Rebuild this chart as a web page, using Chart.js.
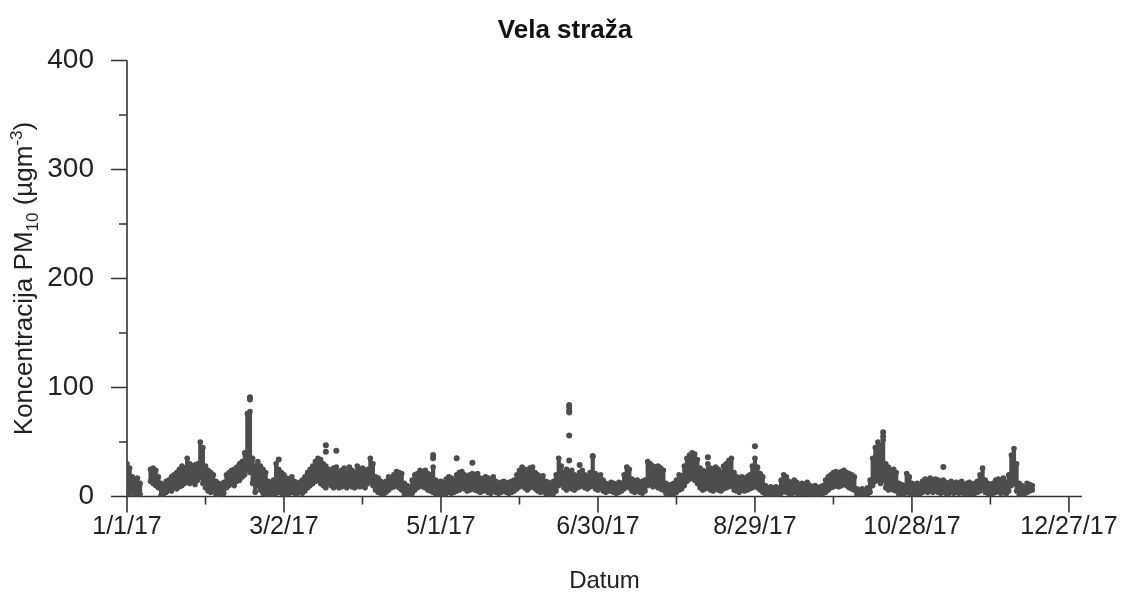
<!DOCTYPE html>
<html>
<head>
<meta charset="utf-8">
<script src="https://cdn.jsdelivr.net/npm/chart.js@4.4.1/dist/chart.umd.min.js"></script>
<style>
  html, body { margin: 0; padding: 0; background: #fff; }
  #wrap { width: 1125px; height: 596px; }
</style>
</head>
<body>
<div id="wrap"><canvas id="chartPM"></canvas></div>
<script>
// PM10 Vela straža 2017 - dnevni raspon (min/max) + izdvojene vrijednosti
const FONT = '"Liberation Sans", Arial, Helvetica, sans-serif';
const INK = '#4d4d4d';
const TITLE = 'Vela straža';

// x = dan u godini (0 = 1/1/17)
const xTickDays   = [0, 60, 120, 180, 240, 300, 360];
const xTickLabels = ['1/1/17', '3/2/17', '5/1/17', '6/30/17', '8/29/17', '10/28/17', '12/27/17'];
const xMinorDays  = [30, 90, 150, 210, 270, 330];
const yTickVals   = [0, 100, 200, 300, 400];
const yMinorVals  = [50, 150, 250, 350];

// dnevni maksimum (index = dan)
const hiVals = [
  30,26,18,15,17,12,null,null,null,25,
  26,24,18,12,10,14,15,18,20,22,
  25,28,26,35,30,28,29,30,50,45,
  28,24,22,20,14,12,10,13,20,22,
  24,25,27,30,32,40,76,78,35,28,
  32,28,25,22,14,12,15,30,25,22,
  20,17,15,18,14,12,13,15,18,22,
  25,28,32,35,34,30,28,25,24,26,
  27,22,24,26,22,27,24,22,28,25,
  26,22,25,35,30,18,17,14,12,14,
  18,17,20,23,22,21,12,10,9,15,
  20,21,24,22,24,21,20,27,15,13,
  14,12,16,18,17,15,20,22,23,20,
  18,20,21,19,21,17,16,18,17,15,
  18,14,12,13,14,12,13,14,15,20,
  24,27,25,22,26,27,22,20,18,19,
  14,13,12,14,20,35,28,22,25,22,
  24,20,18,22,24,20,18,22,37,21,
  18,20,15,12,11,13,12,10,13,12,
  20,27,25,16,14,15,13,14,15,32,
  30,28,27,28,26,24,12,10,11,12,
  15,20,19,28,35,38,40,39,34,26,
  24,23,30,26,24,27,25,22,28,30,
  33,35,22,18,17,18,16,18,20,28,
  35,27,21,18,10,8,9,7,9,8,
  15,20,18,14,12,15,13,10,12,11,
  13,10,9,10,8,9,10,15,18,20,
  22,23,21,23,24,22,21,20,18,7,
  6,7,6,8,15,35,45,50,47,52,
  30,27,24,25,22,12,11,10,21,18,
  12,11,12,10,14,16,15,17,14,16,
  15,14,15,13,12,14,11,13,12,14,
  10,12,13,11,12,14,20,26,15,12,
  11,12,15,16,14,17,13,20,38,44,
  30,12,10,8,12,11,10
];

// dnevni minimum
const loVals = [
  3,2,4,2,1,2,null,null,null,14,
  12,10,8,1,2,4,6,5,8,7,
  9,10,12,14,12,14,11,15,18,12,
  8,5,4,6,2,1,2,3,8,10,
  12,10,14,15,18,20,25,22,12,4,
  10,6,3,2,1,0,1,3,4,3,
  2,1,3,4,3,2,4,3,5,8,
  10,12,14,15,12,10,8,12,10,8,
  10,8,9,10,8,11,9,8,10,9,
  10,8,12,14,10,6,4,3,2,4,
  6,8,9,10,8,6,2,1,0,3,
  6,8,10,9,8,6,5,4,2,1,
  2,1,3,4,3,4,5,6,8,7,
  5,6,7,6,5,4,5,6,4,3,
  5,4,3,4,5,4,3,4,5,7,
  9,10,8,6,8,9,7,5,4,6,
  3,2,2,3,5,10,12,8,6,8,
  7,6,8,9,10,8,7,9,10,7,
  6,8,5,4,5,5,4,3,4,5,
  7,10,8,5,4,5,4,3,5,10,
  12,9,10,8,7,6,3,2,3,2,
  4,6,7,10,14,16,18,15,12,8,
  6,7,8,6,5,7,6,5,7,8,
  9,10,6,5,4,6,5,6,7,8,
  10,8,6,4,2,1,2,1,2,1,
  3,5,4,3,2,4,3,2,3,2,
  3,2,1,2,1,2,3,4,6,8,
  9,10,9,10,11,10,8,7,6,2,
  1,2,1,2,4,10,14,16,12,15,
  8,6,7,6,5,2,1,2,4,3,
  2,1,3,2,4,5,4,5,4,5,
  4,3,4,3,2,4,3,4,3,4,
  2,3,3,2,3,4,5,8,4,3,
  2,3,4,5,3,4,2,5,10,12,
  5,1,0,2,4,5,6
];

// izdvojene točke (vršne vrijednosti)
const outlierDays = [47, 47, 58, 76, 76, 80, 117, 117, 126, 132, 169, 169, 169, 169, 169, 169, 173, 178, 222, 240, 289, 289, 312];
const outlierVals = [91, 89, 34, 47, 41, 42, 38, 35, 35, 31, 84, 82, 79, 77, 56, 33, 29, 37, 36, 46, 59, 55, 27];

const bandData = [];
const edgeData = [];
hiVals.forEach((h, i) => {
  if (h == null || loVals[i] == null) return;
  bandData.push({ x: i, y: [loVals[i], h] });
  edgeData.push({ x: i, y: h }, { x: i, y: loVals[i] });
});
const outlierData = outlierDays.map((d, i) => ({ x: d, y: outlierVals[i] }));

const axesPlugin = {
  id: 'axes',
  beforeDatasetsDraw(chart) {
    const { ctx, chartArea: a, scales: { x, y } } = chart;
    ctx.save();
    ctx.strokeStyle = '#333';
    ctx.lineWidth = 1.6;
    ctx.beginPath();
    ctx.moveTo(a.left, a.top); ctx.lineTo(a.left, a.bottom);
    ctx.moveTo(a.left, a.bottom); ctx.lineTo(a.right, a.bottom);
    yTickVals.forEach(v => { const p = y.getPixelForValue(v); ctx.moveTo(a.left - 16, p); ctx.lineTo(a.left, p); });
    yMinorVals.forEach(v => { const p = y.getPixelForValue(v); ctx.moveTo(a.left - 8, p); ctx.lineTo(a.left, p); });
    xTickDays.forEach(v => { const p = x.getPixelForValue(v); ctx.moveTo(p, a.bottom); ctx.lineTo(p, a.bottom + 16); });
    xMinorDays.forEach(v => { const p = x.getPixelForValue(v); ctx.moveTo(p, a.bottom); ctx.lineTo(p, a.bottom + 8); });
    ctx.stroke();
    ctx.restore();
  }
};

// naslov grafa + naslov y osi sa indeksom i eksponentom
const textPlugin = {
  id: 'texts',
  afterDraw(chart) {
    const { ctx, chartArea: a } = chart;
    ctx.save();
    ctx.fillStyle = '#111';
    ctx.textAlign = 'center';
    ctx.textBaseline = 'alphabetic';
    ctx.font = `bold 26px ${FONT}`;
    ctx.fillText(TITLE, 565, 38);

    const parts = [
      { t: 'Koncentracija PM', s: 26, dy: 0 },
      { t: '10', s: 17, dy: 6 },
      { t: ' (µgm', s: 26, dy: 0 },
      { t: '-3', s: 17, dy: -10 },
      { t: ')', s: 26, dy: 0 }
    ];
    ctx.fillStyle = '#222';
    ctx.textAlign = 'left';
    let total = 0;
    parts.forEach(p => { ctx.font = `${p.s}px ${FONT}`; p.w = ctx.measureText(p.t).width; total += p.w; });
    ctx.translate(32, (a.top + a.bottom) / 2);
    ctx.rotate(-Math.PI / 2);
    let xx = -total / 2;
    parts.forEach(p => { ctx.font = `${p.s}px ${FONT}`; ctx.fillText(p.t, xx, p.dy); xx += p.w; });
    ctx.restore();
  }
};

new Chart(document.getElementById('chartPM'), {
  type: 'bar',
  data: {
    datasets: [
      { type: 'bar', data: bandData, backgroundColor: INK, barPercentage: 1.6, categoryPercentage: 1, borderWidth: 0 },
      { type: 'scatter', data: edgeData, pointRadius: 2.8, pointBackgroundColor: INK, pointBorderWidth: 0 },
      { type: 'scatter', data: outlierData, pointRadius: 3, pointBackgroundColor: INK, pointBorderWidth: 0 }
    ]
  },
  options: {
    responsive: true,
    maintainAspectRatio: false,
    animation: false,
    devicePixelRatio: 1,
    layout: { padding: { left: 0, right: 43, top: 60.5, bottom: 0 } },
    plugins: {
      legend: { display: false },
      tooltip: { enabled: false },
      title: { display: false }
    },
    scales: {
      x: {
        type: 'linear', min: 0, max: 365, offset: false,
        grid: { display: false }, border: { display: false },
        ticks: {
          font: { family: FONT, size: 25 }, color: '#222', padding: 8,
          autoSkip: false, maxRotation: 0,
          callback: (v) => xTickLabels[xTickDays.indexOf(v)] ?? ''
        },
        afterBuildTicks: (s) => { s.ticks = xTickDays.map(v => ({ value: v })); },
        afterFit: (s) => { s.height = 99.5; s.paddingLeft = 0; s.paddingRight = 0; },
        title: { display: true, text: 'Datum', color: '#222', font: { family: FONT, size: 24 }, padding: { top: 0, bottom: 0 } }
      },
      y: {
        min: 0, max: 400,
        grid: { display: false }, border: { display: false },
        ticks: { font: { family: FONT, size: 28 }, color: '#222', padding: 25 },
        afterBuildTicks: (s) => { s.ticks = yTickVals.map(v => ({ value: v })); },
        afterFit: (s) => { s.width = 127; s.paddingTop = 0; s.paddingBottom = 0; }
      }
    }
  },
  plugins: [axesPlugin, textPlugin]
});
</script>
</body>
</html>
